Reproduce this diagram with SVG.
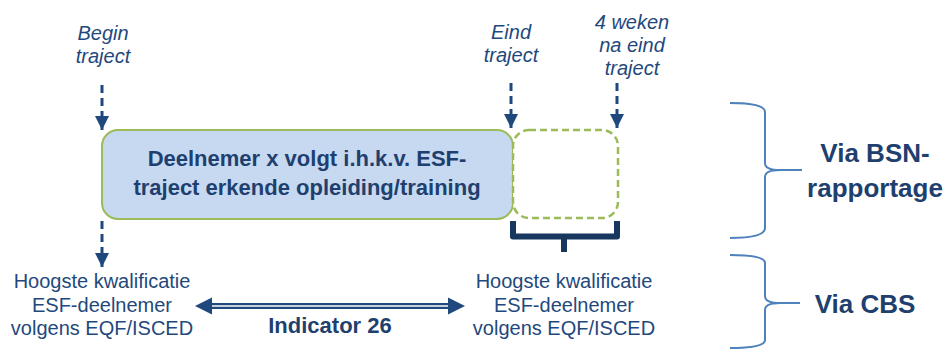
<svg xmlns="http://www.w3.org/2000/svg" width="950" height="350" viewBox="0 0 950 350">
<style>
.it{font-family:"Liberation Sans",Arial,sans-serif;font-style:italic;font-size:20px;fill:#1f497d;text-anchor:middle}
.rg{font-family:"Liberation Sans",Arial,sans-serif;font-size:20px;fill:#1f497d;text-anchor:middle}
.bd{font-family:"Liberation Sans",Arial,sans-serif;font-weight:bold;fill:#1f3f6e;text-anchor:middle}
.dash{stroke:#1f497d;stroke-width:3;stroke-dasharray:8,5;fill:none}
.brace{stroke:#4f81bd;stroke-width:2;fill:none}
</style>
<defs>
<marker id="tri" viewBox="0 0 14 14" refX="14" refY="7" markerWidth="14" markerHeight="14" markerUnits="userSpaceOnUse" orient="auto">
<path d="M0,0 L14,7 L0,14 Z" fill="#1f497d"/>
</marker>
</defs>

<g id="label-begin">
<text class="it" x="103" y="40">Begin</text>
<text class="it" x="103" y="63">traject</text>
</g>
<g id="label-eind">
<text class="it" x="511" y="39">Eind</text>
<text class="it" x="511" y="62">traject</text>
</g>
<g id="label-4weken">
<text class="it" x="632" y="29">4 weken</text>
<text class="it" x="632" y="52">na eind</text>
<text class="it" x="632" y="75">traject</text>
</g>

<g id="node-traject">
<rect x="102" y="130" width="411" height="89" rx="16" ry="16" fill="#c6d9f1" stroke="#9bbb59" stroke-width="2"/>
<text class="bd" x="307" y="166" font-size="22">Deelnemer x volgt i.h.k.v. ESF-</text>
<text class="bd" x="307" y="195" font-size="22">traject erkende opleiding/training</text>
</g>

<g id="node-4weken">
<rect x="513" y="130" width="105" height="88" rx="16" ry="16" fill="#ffffff" stroke="#9bbb59" stroke-width="2.5" stroke-dasharray="7,4"/>
</g>

<g id="node-kwal-begin">
<text class="rg" x="102" y="288">Hoogste kwalificatie</text>
<text class="rg" x="102" y="312">ESF-deelnemer</text>
<text class="rg" x="102" y="335">volgens EQF/ISCED</text>
</g>
<g id="node-kwal-eind">
<text class="rg" x="564" y="288">Hoogste kwalificatie</text>
<text class="rg" x="564" y="312">ESF-deelnemer</text>
<text class="rg" x="564" y="335">volgens EQF/ISCED</text>
</g>

<g id="node-bsn">
<path class="brace" d="M730,103 Q765,103 765,112 V163 Q765,170 780,170 H802 M780,170 Q765,170 765,177 V228 Q765,238 730,238"/>
<text class="bd" x="875" y="162" font-size="26">Via BSN-</text>
<text class="bd" x="875" y="197" font-size="26">rapportage</text>
</g>
<g id="node-cbs">
<path class="brace" d="M730,255 Q765,255 765,263 V296 Q765,303 780,303 H800 M780,303 Q765,303 765,310 V340 Q765,348 730,348"/>
<text class="bd" x="865" y="313" font-size="26">Via CBS</text>
</g>

<g id="connectors">
<line class="dash" x1="102" y1="85" x2="102" y2="130" marker-end="url(#tri)"/>
<line class="dash" x1="511" y1="83" x2="511" y2="128" marker-end="url(#tri)"/>
<line class="dash" x1="617" y1="83" x2="617" y2="128" marker-end="url(#tri)"/>
<line class="dash" x1="102" y1="221" x2="102" y2="267" marker-end="url(#tri)"/>
<path d="M513,221 V236.5 H617 V221 M564,236.5 V252" stroke="#17375e" stroke-width="6" fill="none" stroke-linejoin="round"/>
<g id="indicator-arrow">
<line x1="210" y1="306" x2="450" y2="306" stroke="#1f497d" stroke-width="6"/>
<line x1="208" y1="306" x2="452" y2="306" stroke="#ffffff" stroke-width="1.6"/>
<path d="M195,306 L212,297.5 L212,314.5 Z" fill="#1f497d"/>
<path d="M465,306 L448,297.5 L448,314.5 Z" fill="#1f497d"/>
</g>
<text class="bd" x="330" y="333" font-size="22">Indicator 26</text>
</g>
</svg>
